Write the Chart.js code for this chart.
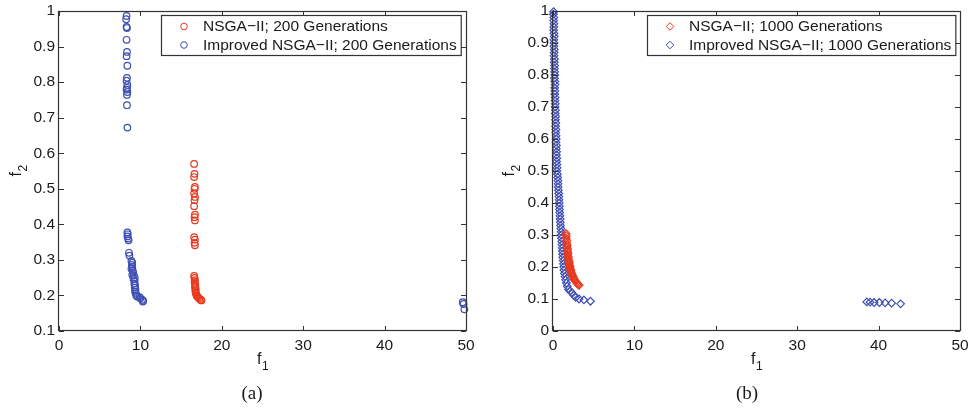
<!DOCTYPE html>
<html><head><meta charset="utf-8">
<script src="https://cdn.jsdelivr.net/npm/chart.js@4.4.1/dist/chart.umd.min.js"></script>
<style>
html,body{margin:0;padding:0;background:#fff;}
#wrap{position:relative;width:968px;height:409px;overflow:hidden;background:#fff;}
canvas{position:absolute;top:0;}
</style></head><body>
<div id="wrap">
<canvas id="ca" width="484" height="409" style="left:0px"></canvas>
<canvas id="cb" width="484" height="409" style="left:484px"></canvas>
</div>
<script>
// ---------- tick labels ----------
const xTicks = [0, 10, 20, 30, 40, 50];
const yTicksA = [0.1, 0.2, 0.3, 0.4, 0.5, 0.6, 0.7, 0.8, 0.9, 1];
const yTicksB = [0, 0.1, 0.2, 0.3, 0.4, 0.5, 0.6, 0.7, 0.8, 0.9, 1];

// ---------- series names ----------
const seriesA = ['NSGA\u2212II; 200 Generations', 'Improved NSGA\u2212II; 200 Generations'];
const seriesB = ['NSGA\u2212II; 1000 Generations', 'Improved NSGA\u2212II; 1000 Generations'];
const captionA = '(a)';
const captionB = '(b)';

// ---------- (a) 200 generations: [f1, f2] ----------
const nsga200 = [
  [16.6,0.570],[16.65,0.542],[16.6,0.533],[16.7,0.505],[16.65,0.500],[16.6,0.487],
  [16.7,0.477],[16.65,0.468],[16.6,0.451],[16.7,0.427],[16.65,0.420],[16.7,0.411],
  [16.6,0.364],[16.7,0.357],[16.65,0.348],[16.7,0.341],
  [16.6,0.255],[16.65,0.249],[16.7,0.243],[16.65,0.238],[16.7,0.233],[16.75,0.228],
  [16.7,0.223],[16.8,0.218],[16.75,0.213],[16.8,0.208],[16.85,0.204],[16.9,0.200],
  [17.0,0.197],[17.1,0.194],[17.25,0.191],[17.4,0.188],[17.5,0.186]
];
const improved200 = [
  [8.3,0.986],[8.25,0.977],[8.3,0.955],[8.35,0.952],[8.3,0.919],[8.35,0.885],
  [8.3,0.873],[8.4,0.846],[8.35,0.812],[8.3,0.804],[8.4,0.792],[8.35,0.784],
  [8.3,0.779],[8.4,0.772],[8.35,0.764],[8.35,0.735],[8.4,0.672],
  [8.4,0.377],[8.45,0.372],[8.4,0.366],[8.5,0.360],[8.55,0.355],[8.6,0.320],[8.65,0.312],
  [8.9,0.297],[9.0,0.292],[8.95,0.286],[9.0,0.280],[8.9,0.275],[9.05,0.270],[9.1,0.265],
  [9.0,0.258],[9.2,0.256],[9.3,0.250],[9.15,0.246],[9.3,0.240],[9.25,0.233],[9.35,0.228],
  [9.3,0.222],[9.4,0.216],[9.35,0.210],[9.45,0.205],[9.5,0.200],[9.6,0.197],[9.9,0.195],
  [10.0,0.192],[10.2,0.188],[10.35,0.185],[10.3,0.183],
  [49.6,0.181],[49.7,0.176],[49.8,0.161]
];

// ---------- (b) 1000 generations: [f1, f2] ----------
const nsga1000 = [
  [1.6,0.305],[1.65,0.298],[1.62,0.290],[1.7,0.283],[1.68,0.275],[1.75,0.268],[1.72,0.262],
  [1.8,0.256],[1.78,0.250],[1.85,0.244],[1.82,0.238],[1.9,0.232],[1.88,0.226],[1.95,0.220],
  [2.0,0.215],[1.98,0.210],[2.05,0.205],[2.1,0.200],[2.08,0.196],[2.15,0.192],[2.2,0.188],
  [2.25,0.183],[2.3,0.178],[2.4,0.174],[2.45,0.170],[2.55,0.165],[2.6,0.161],[2.7,0.158],
  [2.8,0.155],[2.9,0.151],[3.0,0.148],[3.1,0.145],[3.2,0.143]
];
const improved1000 = [
  [0.08,0.998],[0.05,0.990],[0.10,0.980],[0.07,0.970],[0.12,0.960],[0.10,0.950],[0.08,0.940],
  [0.12,0.930],[0.15,0.920],[0.10,0.910],[0.13,0.900],[0.11,0.890],[0.16,0.880],[0.14,0.870],
  [0.12,0.860],[0.17,0.850],[0.15,0.840],[0.20,0.830],[0.17,0.820],[0.20,0.810],[0.22,0.800],
  [0.18,0.790],[0.22,0.780],[0.25,0.770],[0.20,0.760],[0.24,0.750],[0.22,0.740],[0.26,0.730],
  [0.24,0.720],[0.28,0.710],[0.26,0.700],[0.30,0.690],[0.28,0.680],[0.33,0.670],[0.30,0.660],
  [0.35,0.650],[0.32,0.640],[0.36,0.630],[0.34,0.620],[0.38,0.610],[0.40,0.600],[0.37,0.590],
  [0.42,0.580],[0.40,0.570],[0.44,0.560],[0.42,0.550],[0.46,0.540],[0.44,0.530],[0.48,0.520],
  [0.50,0.510],[0.47,0.500],[0.55,0.490],[0.58,0.480],[0.60,0.470],[0.62,0.460],[0.63,0.450],
  [0.67,0.440],[0.70,0.430],[0.72,0.420],[0.74,0.410],[0.76,0.400],[0.78,0.390],[0.80,0.380],
  [0.82,0.370],[0.85,0.360],[0.88,0.350],[0.90,0.340],[0.93,0.330],[0.96,0.320],[1.00,0.310],
  [1.02,0.300],[1.05,0.290],[1.08,0.280],[1.10,0.270],[1.12,0.260],[1.15,0.250],[1.18,0.240],
  [1.20,0.230],[1.25,0.220],[1.28,0.210],[1.32,0.200],[1.35,0.190],[1.40,0.180],[1.48,0.170],
  [1.55,0.160],[1.65,0.150],[1.75,0.140],[1.90,0.130],[2.10,0.125],[2.30,0.120],[2.55,0.112],
  [2.80,0.105],[3.20,0.100],[3.80,0.097],[4.60,0.093],
  [38.55,0.091],[38.95,0.090],[39.45,0.089],[40.1,0.089],[40.8,0.088],[41.6,0.087],[42.7,0.085]
];

const RED = '#e8391f';
const BLUE = '#3f4fb3';
const INK = '#1a1a1a';
const FONT = "'Liberation Sans', Arial, Helvetica, sans-serif";
const SERIF = "'Liberation Serif', 'DejaVu Serif', serif";

Chart.defaults.font.family = FONT;
Chart.defaults.color = INK;

function subText(ctx, main, sub, cx, cy, rot) {
  ctx.save();
  ctx.translate(cx, cy);
  ctx.rotate(rot);
  ctx.fillStyle = INK;
  ctx.textAlign = 'left';
  ctx.textBaseline = 'alphabetic';
  ctx.font = '16px ' + FONT;
  const w1 = ctx.measureText(main).width;
  ctx.font = '12px ' + FONT;
  const w2 = ctx.measureText(sub).width;
  const x0 = -(w1 + w2) / 2;
  ctx.font = '16px ' + FONT;
  ctx.fillText(main, x0, 4);
  ctx.font = '12px ' + FONT;
  ctx.fillText(sub, x0 + w1 + 0.5, 10);
  ctx.restore();
}

const framePlugin = {
  id: 'frame',
  afterDraw(chart, args, o) {
    const ctx = chart.ctx;
    const a = chart.chartArea;
    const xs = chart.scales.x, ys = chart.scales.y;
    ctx.save();
    ctx.strokeStyle = '#333';
    ctx.lineWidth = 1.2;
    // box
    ctx.strokeRect(Math.round(a.left) - 0.5, Math.round(a.top) + 0.5,
                   Math.round(a.right - a.left) + 1, Math.round(a.bottom - a.top) - 1);
    // inward ticks
    const L = 5;
    ctx.lineWidth = 1;
    ctx.beginPath();
    xs.ticks.forEach(t => {
      const px = Math.round(xs.getPixelForValue(t.value)) + 0.5;
      ctx.moveTo(px, a.bottom); ctx.lineTo(px, a.bottom - L);
      ctx.moveTo(px, a.top); ctx.lineTo(px, a.top + L);
    });
    ys.ticks.forEach(t => {
      const py = Math.round(ys.getPixelForValue(t.value)) + 0.5;
      ctx.moveTo(a.left, py); ctx.lineTo(a.left + L, py);
      ctx.moveTo(a.right, py); ctx.lineTo(a.right - L, py);
    });
    ctx.stroke();

    // axis titles
    subText(ctx, 'f', '1', (a.left + a.right) / 2, o.xTitleY, 0);
    subText(ctx, 'f', '2', o.yTitleX, (a.top + a.bottom) / 2, -Math.PI / 2);

    // caption
    ctx.fillStyle = INK;
    ctx.font = '19px ' + SERIF;
    ctx.textAlign = 'center';
    ctx.textBaseline = 'middle';
    ctx.fillText(o.caption, o.captionX, o.captionY);

    // legend inside chart area
    ctx.font = '15.5px ' + FONT;
    const ds = chart.data.datasets;
    let tw = 0;
    ds.forEach(d => { tw = Math.max(tw, ctx.measureText(d.label).width); });
    const bw = 42 + tw + 4, bh = 40;
    const bx = Math.round(a.right - 5 - bw), by = 15;
    ctx.fillStyle = '#fff';
    ctx.fillRect(bx, by, bw, bh);
    ctx.strokeStyle = '#333';
    ctx.lineWidth = 1.2;
    ctx.strokeRect(bx + 0.5, by + 0.5, bw, bh);
    ds.forEach((d, i) => {
      const ry = by + 11.5 + i * 18.5;
      ctx.strokeStyle = d.borderColor;
      ctx.fillStyle = 'rgba(0,0,0,0)';
      ctx.lineWidth = 1;
      Chart.helpers.drawPoint(ctx, {pointStyle: d.pointStyle, rotation: 0, radius: d.pointRadius, borderWidth: 1}, bx + 23, ry);
      ctx.fillStyle = INK;
      ctx.textAlign = 'left';
      ctx.textBaseline = 'middle';
      ctx.fillText(d.label, bx + 42, ry + 0.5);
    });
    ctx.restore();
  }
};

function makeChart(id, series, d1, d2, style, radius, yTicks, yWidth, padRight, o) {
  return new Chart(document.getElementById(id), {
    type: 'scatter',
    data: {
      datasets: [
        { label: series[0], data: d1.map(p => ({x: p[0], y: p[1]})), borderColor: RED,
          backgroundColor: 'rgba(0,0,0,0)', pointStyle: style, pointRadius: radius,
          borderWidth: 1.2, clip: false },
        { label: series[1], data: d2.map(p => ({x: p[0], y: p[1]})), borderColor: BLUE,
          backgroundColor: 'rgba(0,0,0,0)', pointStyle: style, pointRadius: radius,
          borderWidth: 1.2, clip: false }
      ]
    },
    options: {
      responsive: false,
      animation: false,
      events: [],
      layout: { padding: { left: 0, top: 11, right: padRight, bottom: 0 } },
      plugins: { legend: { display: false }, tooltip: { enabled: false }, frame: o },
      scales: {
        x: {
          type: 'linear', min: 0, max: 50,
          afterBuildTicks: s => { s.ticks = xTicks.map(v => ({value: v})); },
          afterFit: s => { s.height = 78; s.paddingLeft = 0; s.paddingRight = 0; },
          grid: { display: false, drawTicks: false },
          border: { display: false },
          ticks: { padding: 5, font: { size: 15.5 }, color: INK, maxRotation: 0, autoSkip: false }
        },
        y: {
          type: 'linear', min: yTicks[0], max: yTicks[yTicks.length - 1],
          afterBuildTicks: s => { s.ticks = yTicks.map(v => ({value: v})); },
          afterFit: s => { s.width = yWidth; s.paddingTop = 0; s.paddingBottom = 0; },
          grid: { display: false, drawTicks: false },
          border: { display: false },
          ticks: { padding: 4, font: { size: 15.5 }, color: INK, autoSkip: false,
                   callback: v => String(Math.round(v * 10) / 10) }
        }
      }
    },
    plugins: [framePlugin]
  });
}

makeChart('ca', seriesA, nsga200, improved200, 'circle', 3.3, yTicksA, 59, 18,
  { xTitleY: 360, yTitleX: 17, caption: captionA, captionX: 252, captionY: 394 });
makeChart('cb', seriesB, nsga1000, improved1000, 'rectRot', 3.8, yTicksB, 69, 8,
  { xTitleY: 360, yTitleX: 26, caption: captionB, captionX: 263, captionY: 394 });
</script>
</body></html>
